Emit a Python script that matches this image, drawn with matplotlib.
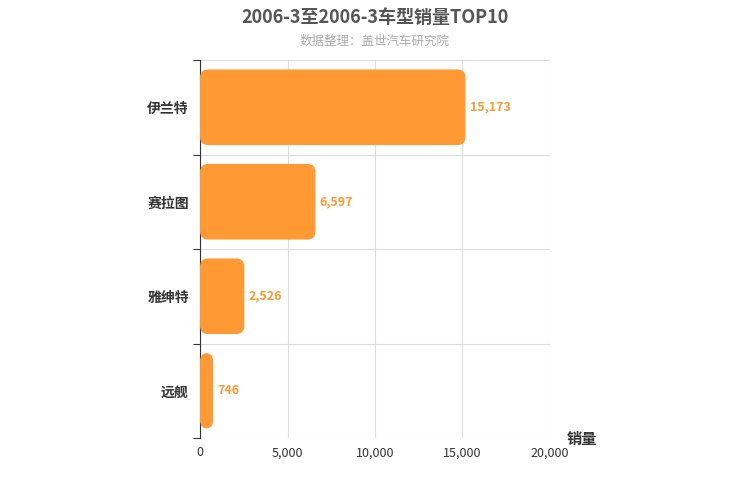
import matplotlib.pyplot as plt
from matplotlib.patches import FancyBboxPatch
from matplotlib.ticker import FuncFormatter

plt.rcParams['font.family'] = ['Noto Sans CJK SC', 'DejaVu Sans']

models = ["伊兰特", "赛拉图", "雅绅特", "远舰"]
sales = [15173, 6597, 2526, 746]
x_ticks = [0, 5000, 10000, 15000, 20000]

bar_color = "#FF9933"

fig = plt.figure(figsize=(7.5, 5), dpi=100)
ax = fig.add_axes([0.2667, 0.124, 0.4666, 0.756])
ax.set_xlim(0, 20000)
ax.set_ylim(len(models), 0)

# rounded bars, radius ~8px in both directions
rx = 8 * 20000 / 350
ry = 8 * len(models) / 378
for i, v in enumerate(sales):
    y0 = i + 0.1
    patch = FancyBboxPatch((0, y0), v, 0.8,
                           boxstyle=f"round,pad=0,rounding_size={rx}",
                           mutation_aspect=ry / rx,
                           facecolor=bar_color, edgecolor="none", zorder=3)
    ax.add_patch(patch)
    ax.text(v + 250, i + 0.5, f"{v:,}", va="center", ha="left",
            color=bar_color, fontsize=9, fontweight="bold", zorder=4)

ax.set_xticks(x_ticks)
ax.xaxis.set_major_formatter(FuncFormatter(lambda v, p: f"{int(v):,}"))
ax.set_yticks(range(len(models) + 1))
ax.set_yticklabels([])
ax.set_yticks([i + 0.5 for i in range(len(models))], minor=True)
ax.set_yticklabels(models, minor=True, fontsize=10, fontweight="bold", color="#333333")
ax.tick_params(axis="y", which="minor", length=0, pad=8)
ax.tick_params(axis="y", which="major", length=5, color="#333333")
ax.tick_params(axis="x", length=0, labelsize=9, colors="#333333", pad=6)

ax.grid(True, color="#DDDDDD", linewidth=0.8, zorder=0)
for s in ["top", "right", "bottom"]:
    ax.spines[s].set_visible(False)
ax.spines["left"].set_color("#333333")

fig.text(0.5, 0.965, "2006-3至2006-3车型销量TOP10", ha="center", va="center",
         fontsize=13, fontweight="bold", color="#555555")
fig.text(0.5, 0.918, "数据整理：盖世汽车研究院", ha="center", va="center",
         fontsize=9, color="#AAAAAA")
fig.text(0.755, 0.122, "销量", ha="left", va="center", fontsize=11,
         fontweight="bold", color="#333333")

fig.savefig("out.png", dpi=100)
